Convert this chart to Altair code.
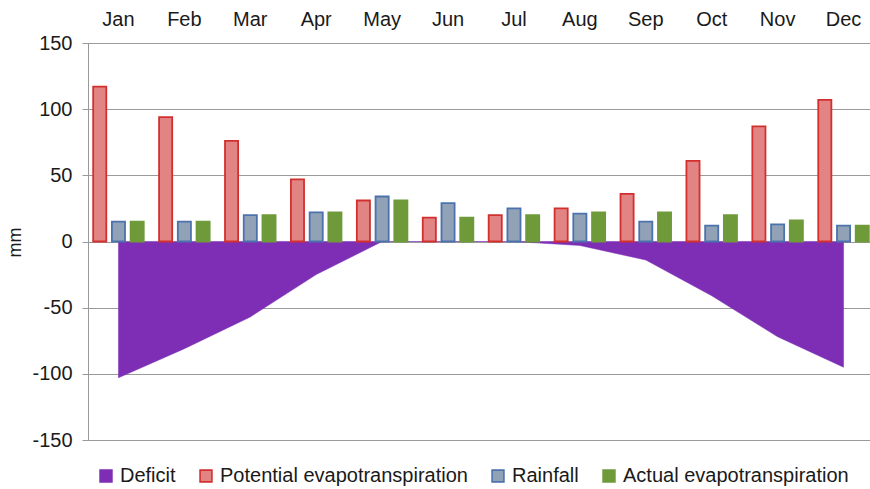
import altair as alt
import pandas as pd

# Monthly water balance (mm)
months = ["Jan", "Feb", "Mar", "Apr", "May", "Jun",
          "Jul", "Aug", "Sep", "Oct", "Nov", "Dec"]
potential_et = [117, 94, 76, 47, 31, 18, 20, 25, 36, 61, 87, 107]
rainfall = [15, 15, 20, 22, 34, 29, 25, 21, 15, 12, 13, 12]
actual_et = [15, 15, 20, 22, 31, 18, 20, 22, 22, 20, 16, 12]
deficit = [-103, -81, -57, -25, 0, 0, 0, -3, -14, -41, -72, -95]

series_names = ["Deficit", "Potential evapotranspiration",
                "Rainfall", "Actual evapotranspiration"]
fill_colors = ["#7D2EB4", "#E28484", "#91A2B7", "#6F9A3A"]
stroke_colors = ["#7D2EB4", "#D2302F", "#4C72AE", "#6F9A3A"]
bar_series = series_names[1:]

bars_df = pd.DataFrame({
    "month": months * 3,
    "series": [s for s in bar_series for _ in months],
    "value": potential_et + rainfall + actual_et,
})
deficit_df = pd.DataFrame({"month": months, "series": "Deficit", "value": deficit})

FONT = "Liberation Sans"

x_enc = alt.X(
    "month:N", sort=months,
    scale=alt.Scale(domain=months, range=[-2.5, 788.5],
                    paddingInner=0, paddingOuter=0),
    axis=alt.Axis(orient="top", title=None, ticks=False, domain=False,
                  labelAngle=0, labelPadding=14, labelFontSize=20,
                  labelColor="#1a1a1a", labelFont=FONT, grid=False),
)
y_enc = alt.Y(
    "value:Q",
    scale=alt.Scale(domain=[-150, 150], nice=False, zero=False),
    axis=alt.Axis(values=[-150, -100, -50, 0, 50, 100, 150],
                  labelExpr="'' + datum.value",
                  title="mm", titleFontSize=18, titleFontWeight="normal",
                  titleFont=FONT, titleColor="#1a1a1a",
                  titleX=-73, titleY=199, titleAlign="center",
                  titleBaseline="middle", titleAngle=-90,
                  labelFontSize=20, labelFont=FONT, labelColor="#1a1a1a",
                  labelPadding=10, tickSize=6, tickColor="#999999",
                  domainColor="#999999", gridColor="#9a9a9a", gridWidth=1.2),
)

legend = alt.Legend(title=None, orient="none", direction="horizontal",
                    legendX=8, legendY=423, symbolType="square",
                    symbolSize=140, symbolStrokeWidth=1.6,
                    labelFontSize=20, labelFont=FONT, labelColor="#1a1a1a",
                    labelLimit=0, labelOffset=4, columnPadding=20, padding=0)

color_enc = alt.Color(
    "series:N",
    scale=alt.Scale(domain=series_names, range=fill_colors),
    legend=legend,
)
stroke_enc = alt.Stroke(
    "series:N",
    scale=alt.Scale(domain=series_names, range=stroke_colors),
    legend=legend,
)

area = alt.Chart(deficit_df).mark_area(strokeWidth=0.5, opacity=1).encode(
    x=x_enc, y=y_enc, color=color_enc, stroke=stroke_enc,
)

bars = alt.Chart(bars_df).mark_bar(strokeWidth=1.8, opacity=1).encode(
    x=x_enc, y=y_enc, color=color_enc, stroke=stroke_enc,
    xOffset=alt.XOffset("series:N", sort=bar_series,
                        scale=alt.Scale(domain=bar_series,
                                        paddingInner=0.3, paddingOuter=0.41)),
)

chart = alt.layer(area, bars).properties(
    width=782, height=397,
    autosize=alt.AutoSizeParams(type="none"),
    padding={"left": 88, "top": 43, "right": 0, "bottom": 49},
).configure_view(stroke=None).configure(background="white")

chart.save("out.html", embed_options={"renderer": "svg", "actions": False})
